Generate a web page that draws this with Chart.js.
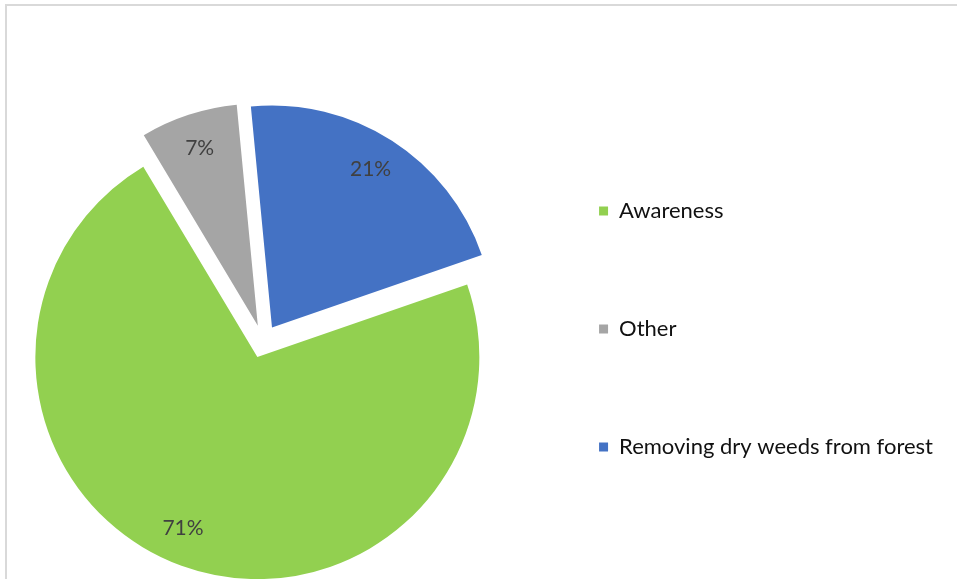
<!DOCTYPE html>
<html>
<head>
<meta charset="utf-8">
<script src="https://cdn.jsdelivr.net/npm/chart.js@4.4.1/dist/chart.umd.min.js"></script>
<style>
  html, body { margin: 0; padding: 0; background: #fff; }
  #wrap { position: relative; width: 957px; height: 579px; overflow: hidden; }
  #frame { position: absolute; left: 5px; top: 4px; width: 1000px; height: 1000px;
           border-left: 2px solid #d9d9d9; border-top: 2px solid #d9d9d9; }
  #chart { position: absolute; left: 0; top: 0; }
</style>
</head>
<body>
<div id="wrap">
  <div id="frame"></div>
  <canvas id="chart" width="957" height="579"></canvas>
</div>
<script>
const categories = ['Awareness', 'Other', 'Removing dry weeds from forest'];
const shares = [71, 7, 21];
const sliceColors = ['#92D050', '#A5A5A5', '#4472C4'];

const FONT = 'Lato, "Open Sans", sans-serif';

// Pull each slice away from the centre along its own bisector.
const explodePlugin = {
  id: 'explode',
  afterDatasetsUpdate(chart, args, opts) {
    chart.getDatasetMeta(0).data.forEach(arc => {
      const mid = (arc.startAngle + arc.endAngle) / 2;
      arc.x += Math.cos(mid) * opts.distance;
      arc.y += Math.sin(mid) * opts.distance;
    });
  }
};

// Percentage text inside every slice.
const sliceLabelPlugin = {
  id: 'sliceLabels',
  afterDatasetsDraw(chart, args, opts) {
    const ctx = chart.ctx;
    const values = chart.data.datasets[0].data;
    ctx.save();
    ctx.font = `${opts.size}px ${FONT}`;
    ctx.fillStyle = opts.color;
    ctx.textAlign = 'center';
    ctx.textBaseline = 'middle';
    chart.getDatasetMeta(0).data.forEach((arc, i) => {
      const mid = (arc.startAngle + arc.endAngle) / 2 + (opts.turn[i] || 0) * Math.PI / 180;
      const r = arc.outerRadius * opts.radial;
      ctx.fillText(values[i] + '%', arc.x + Math.cos(mid) * r, arc.y + Math.sin(mid) * r);
    });
    ctx.restore();
  }
};

new Chart(document.getElementById('chart'), {
  type: 'pie',
  data: {
    labels: categories,
    datasets: [{
      data: shares,
      backgroundColor: sliceColors,
      borderWidth: 0,
      radius: 222,
      rotation: 70.9
    }]
  },
  options: {
    responsive: false,
    animation: false,
    layout: { padding: { left: 23, right: 14, top: 104, bottom: 0 } },
    plugins: {
      legend: {
        position: 'right',
        align: 'start',
        labels: {
          boxWidth: 9,
          boxHeight: 9,
          padding: 96,
          color: '#111111',
          font: { family: FONT, size: 22 }
        }
      },
      tooltip: { enabled: false },
      explode: { distance: 16.6 },
      sliceLabels: { size: 21, color: '#404040', radial: 0.84, turn: [3.5, 0, -0.8] }
    }
  },
  plugins: [explodePlugin, sliceLabelPlugin]
});
</script>
</body>
</html>
